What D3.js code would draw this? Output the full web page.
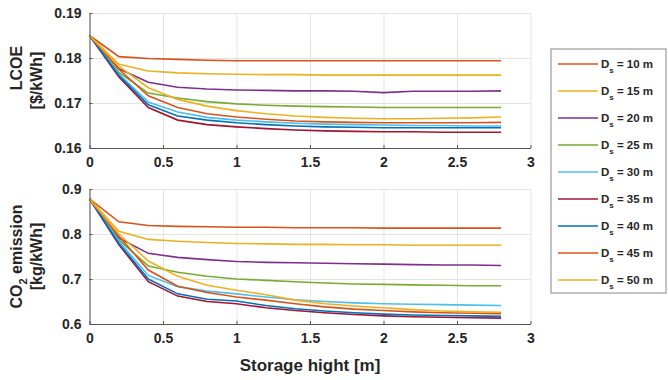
<!DOCTYPE html>
<html lang="en">
<head>
<meta charset="utf-8">
<title>LCOE and CO2 vs storage height</title>
<script src="https://cdn.jsdelivr.net/npm/d3@7/dist/d3.min.js"></script>
<style>
  body { margin: 0; background: #fff; }
  svg { font-family: "Liberation Sans", Arial, sans-serif; font-weight: bold; }
  .axis text { fill: #262626; font-size: 14px; }
  .axis path, .axis line { stroke: #555; }
  .grid line { stroke: #e3e3e3; }
  .grid path { display: none; }
</style>
</head>
<body>
<script>
// storage height [m]
const heights = [0, 0.2, 0.4, 0.6, 0.8, 1.0, 1.2, 1.4, 1.6, 1.8, 2.0, 2.2, 2.4, 2.6, 2.8];
const diameters = ["10", "15", "20", "25", "30", "35", "40", "45", "50"];
const colors = ["#D95319", "#EDB120", "#7E2F8E", "#77AC30", "#4DBEEE", "#A2142F", "#0072BD", "#D95319", "#EDB120"];

// LCOE [$/kWh]
const lcoe10 = [0.185, 0.1803, 0.1799, 0.1797, 0.1795, 0.1794, 0.1794, 0.1794, 0.1794, 0.1794, 0.1794, 0.1794, 0.1794, 0.1794, 0.1794];
const lcoe15 = [0.185, 0.1786, 0.1771, 0.1767, 0.1765, 0.1764, 0.1763, 0.1763, 0.1762, 0.1762, 0.1762, 0.1762, 0.1762, 0.1762, 0.1762];
const lcoe20 = [0.185, 0.1776, 0.1746, 0.1735, 0.1731, 0.1729, 0.1728, 0.1727, 0.1727, 0.1726, 0.1723, 0.1726, 0.1726, 0.1726, 0.1727];
const lcoe25 = [0.185, 0.1768, 0.1722, 0.1711, 0.1703, 0.1698, 0.1695, 0.1693, 0.1692, 0.1691, 0.1690, 0.1690, 0.1690, 0.1690, 0.1690];
const lcoe30 = [0.185, 0.1764, 0.1702, 0.1680, 0.1668, 0.1662, 0.1658, 0.1655, 0.1653, 0.1652, 0.1651, 0.1650, 0.1650, 0.1649, 0.1649];
const lcoe35 = [0.185, 0.1758, 0.1690, 0.1662, 0.1652, 0.1647, 0.1643, 0.1640, 0.1638, 0.1637, 0.1636, 0.1636, 0.1635, 0.1635, 0.1635];
const lcoe40 = [0.185, 0.1761, 0.1696, 0.1671, 0.1662, 0.1656, 0.1652, 0.1649, 0.1647, 0.1646, 0.1645, 0.1645, 0.1645, 0.1645, 0.1645];
const lcoe45 = [0.185, 0.1775, 0.1716, 0.1690, 0.1676, 0.1669, 0.1664, 0.1660, 0.1658, 0.1657, 0.1656, 0.1656, 0.1656, 0.1656, 0.1657];
const lcoe50 = [0.185, 0.1782, 0.1734, 0.1708, 0.1693, 0.1683, 0.1676, 0.1671, 0.1668, 0.1666, 0.1665, 0.1665, 0.1666, 0.1667, 0.1669];

// CO2 emission [kg/kWh]
const co2_10 = [0.878, 0.827, 0.819, 0.817, 0.816, 0.815, 0.815, 0.814, 0.814, 0.814, 0.813, 0.813, 0.813, 0.813, 0.813];
const co2_15 = [0.878, 0.806, 0.788, 0.784, 0.781, 0.779, 0.778, 0.777, 0.777, 0.776, 0.776, 0.775, 0.775, 0.775, 0.775];
const co2_20 = [0.878, 0.791, 0.757, 0.748, 0.743, 0.739, 0.737, 0.736, 0.735, 0.734, 0.733, 0.732, 0.731, 0.731, 0.730];
const co2_25 = [0.878, 0.787, 0.729, 0.715, 0.706, 0.700, 0.697, 0.694, 0.691, 0.689, 0.688, 0.687, 0.686, 0.685, 0.685];
const co2_30 = [0.878, 0.784, 0.708, 0.683, 0.673, 0.667, 0.660, 0.654, 0.650, 0.647, 0.645, 0.644, 0.643, 0.642, 0.641];
const co2_35 = [0.878, 0.776, 0.694, 0.662, 0.650, 0.645, 0.636, 0.630, 0.625, 0.621, 0.618, 0.616, 0.615, 0.614, 0.613];
const co2_40 = [0.878, 0.779, 0.700, 0.667, 0.655, 0.651, 0.641, 0.634, 0.629, 0.625, 0.622, 0.620, 0.619, 0.618, 0.617];
const co2_45 = [0.878, 0.795, 0.720, 0.684, 0.670, 0.660, 0.653, 0.645, 0.638, 0.633, 0.630, 0.627, 0.625, 0.624, 0.623];
const co2_50 = [0.878, 0.800, 0.740, 0.706, 0.686, 0.675, 0.665, 0.653, 0.645, 0.640, 0.636, 0.632, 0.629, 0.627, 0.626];

const lcoeSeries = [lcoe10, lcoe15, lcoe20, lcoe25, lcoe30, lcoe35, lcoe40, lcoe45, lcoe50];
const co2Series = [co2_10, co2_15, co2_20, co2_25, co2_30, co2_35, co2_40, co2_45, co2_50];

const xTicks = [0, 0.5, 1, 1.5, 2, 2.5, 3];
const lcoeTicks = [0.16, 0.17, 0.18, 0.19];
const co2Ticks = [0.6, 0.7, 0.8, 0.9];

const W = 668, H = 380;
const left = 89.5, right = 530.5;

const svg = d3.select("body").append("svg")
    .attr("width", W)
    .attr("height", H);

const x = d3.scaleLinear().domain([0, 3]).range([left, right]);

function panel(top, bottom, domain, ticks, fmt, series, label1, label2, sub, label1y) {
  const y = d3.scaleLinear().domain(domain).range([bottom, top]);
  const h = bottom - top;

  // grid
  svg.append("g").attr("class", "grid")
      .attr("transform", `translate(0,${bottom})`)
      .call(d3.axisBottom(x).tickValues(xTicks).tickSize(-h).tickFormat(""));
  svg.append("g").attr("class", "grid")
      .attr("transform", `translate(${left},0)`)
      .call(d3.axisLeft(y).tickValues(ticks).tickSize(-(right - left)).tickFormat(""));

  // lines
  const line = d3.line().x((d, i) => x(heights[i])).y(d => y(d));
  svg.append("g").selectAll("path")
    .data(series)
    .join("path")
      .attr("d", line)
      .attr("fill", "none")
      .attr("stroke", (d, i) => colors[i])
      .attr("stroke-width", 1.6);

  // axes, ticks inward
  svg.append("g").attr("class", "axis")
      .attr("transform", `translate(0,${bottom})`)
      .call(d3.axisBottom(x).tickValues(xTicks).tickSizeInner(-3).tickSizeOuter(0).tickPadding(9)
        .tickFormat(d3.format("")));
  svg.append("g").attr("class", "axis")
      .attr("transform", `translate(${left},0)`)
      .call(d3.axisLeft(y).tickValues(ticks).tickSizeInner(-3).tickSizeOuter(0).tickPadding(8)
        .tickFormat(fmt));

  // y label, two lines
  const cy = (top + bottom) / 2;
  const t1 = svg.append("text")
      .attr("transform", `translate(22,${label1y || cy}) rotate(-90)`)
      .attr("text-anchor", "middle")
      .attr("font-size", 16)
      .attr("fill", "#262626");
  if (sub) {
    t1.append("tspan").text("CO");
    t1.append("tspan").attr("font-size", 11).attr("dy", 5).text("2");
    t1.append("tspan").attr("dy", -5).text(" emission");
  } else {
    t1.text(label1);
  }
  svg.append("text")
      .attr("transform", `translate(42,${cy}) rotate(-90)`)
      .attr("text-anchor", "middle")
      .attr("font-size", 16)
      .attr("fill", "#262626")
      .text(label2);
}

panel(13, 148, [0.16, 0.19], lcoeTicks, d3.format(".2f"), lcoeSeries, "LCOE", "[$/kWh]", false, 68);
panel(189, 324, [0.6, 0.9], co2Ticks, d3.format(".1f"), co2Series, "", "[kg/kWh]", true);

svg.append("text")
    .attr("x", (left + right) / 2)
    .attr("y", 371)
    .attr("text-anchor", "middle")
    .attr("font-size", 17)
    .attr("fill", "#262626")
    .text("Storage hight [m]");

// legend
const lg = svg.append("g").attr("transform", "translate(551,49)");
lg.append("rect")
    .attr("width", 115).attr("height", 244)
    .attr("fill", "#fff").attr("stroke", "#888").attr("stroke-width", 1);
const items = lg.selectAll("g.item")
  .data(diameters)
  .join("g")
    .attr("class", "item")
    .attr("transform", (d, i) => `translate(0,${15 + i * 27})`);
items.append("line")
    .attr("x1", 7).attr("x2", 47)
    .attr("stroke", (d, i) => colors[i])
    .attr("stroke-width", 1.6);
const lt = items.append("text")
    .attr("x", 50).attr("y", 4)
    .attr("font-size", 11.5)
    .attr("fill", "#262626");
lt.append("tspan").text("D");
lt.append("tspan").attr("font-size", 8).attr("dy", 5).text("s");
lt.append("tspan").attr("dy", -5).text(d => " = " + d + " m");
</script>
</body>
</html>
